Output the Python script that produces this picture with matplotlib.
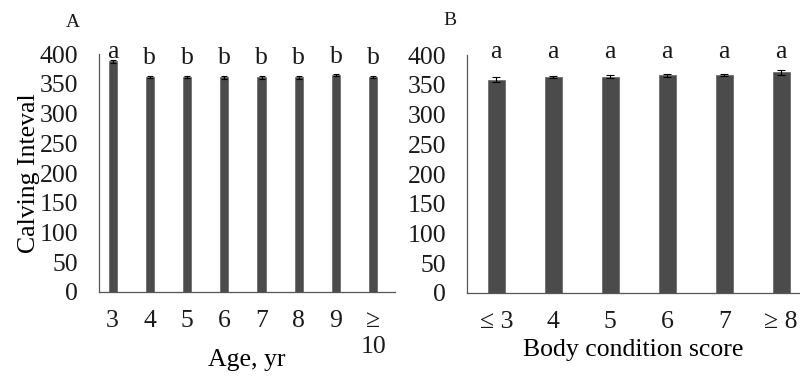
import numpy as np
import matplotlib
matplotlib.use("Agg")
import matplotlib.pyplot as plt

# Panel A: calving interval by age
age_labels = ["3", "4", "5", "6", "7", "8", "9", "≥\n10"]
age_values = [388, 362, 362, 361, 361, 361, 365, 362]
age_err = [2, 2, 2, 2, 2, 2, 2, 2]
age_letters = ["a", "b", "b", "b", "b", "b", "b", "b"]
age_letter_y = [393, 383, 383, 383, 383, 383, 385, 383]

# Panel B: calving interval by body condition score
bcs_labels = ["≤ 3", "4", "5", "6", "7", "≥ 8"]
bcs_values = [359, 363, 364, 366, 367, 371]
bcs_err = [4, 2, 2, 2, 2, 5]
bcs_letters = ["a", "a", "a", "a", "a", "a"]
bcs_letter_y = [395, 395, 395, 395, 395, 395]

plt.rcParams["font.family"] = ["Liberation Serif", "DejaVu Serif"]
plt.rcParams["text.color"] = "#1a1a1a"

BAR = "#4b4b4b"
FS = 18.5

fig = plt.figure(figsize=(8, 3.81), dpi=100)
ax_a = fig.add_axes([0.124, 0.2336, 0.370, 0.624])
ax_b = fig.add_axes([0.584, 0.231, 0.416, 0.624])


def style(ax):
    ax.set_ylim(0, 400)
    ax.set_yticks(range(0, 401, 50))
    for s in ["top", "right"]:
        ax.spines[s].set_visible(False)
    for s in ["left", "bottom"]:
        ax.spines[s].set_color("#555555")
        ax.spines[s].set_linewidth(0.9)
    ax.tick_params(axis="both", length=0, labelsize=FS, colors="#1a1a1a")
    ax.tick_params(axis="y", pad=15)
    ax.tick_params(axis="x", pad=13)


x = np.arange(len(age_labels))
ax_a.bar(x, age_values, width=0.22, color=BAR, edgecolor="#6e6e6e", linewidth=0.6)
ax_a.errorbar(x, age_values, yerr=age_err, fmt="none", ecolor="black",
              elinewidth=0.8, capsize=2.5, capthick=0.8)
for xi, lt, ly in zip(x, age_letters, age_letter_y):
    ax_a.text(xi, ly, lt, ha="center", va="baseline", fontsize=FS, clip_on=False)
ax_a.set_xticks(x)
ax_a.set_xticklabels(age_labels, linespacing=1.25)
ax_a.set_xlim(-0.36, 7.59)
style(ax_a)
ax_a.set_xlabel("Age, yr", fontsize=FS, labelpad=-7)
ax_a.set_ylabel("Calving Inteval", fontsize=FS, labelpad=0)

x = np.arange(len(bcs_labels))
ax_b.bar(x, bcs_values, width=0.30, color=BAR, edgecolor="#6e6e6e", linewidth=0.6)
ax_b.errorbar(x, bcs_values, yerr=bcs_err, fmt="none", ecolor="black",
              elinewidth=0.8, capsize=3, capthick=0.8)
for xi, lt, ly in zip(x, bcs_letters, bcs_letter_y):
    ax_b.text(xi, ly, lt, ha="center", va="baseline", fontsize=FS, clip_on=False)
ax_b.set_xticks(x)
ax_b.set_xticklabels(bcs_labels)
ax_b.set_xlim(-0.51, 5.33)
style(ax_b)
ax_b.set_xlabel("Body condition score", fontsize=FS, labelpad=4)

fig.text(0.091, 0.942, "A", fontsize=14, ha="center", va="center")
fig.text(0.563, 0.947, "B", fontsize=14, ha="center", va="center")

fig.savefig("out.png", dpi=100)
